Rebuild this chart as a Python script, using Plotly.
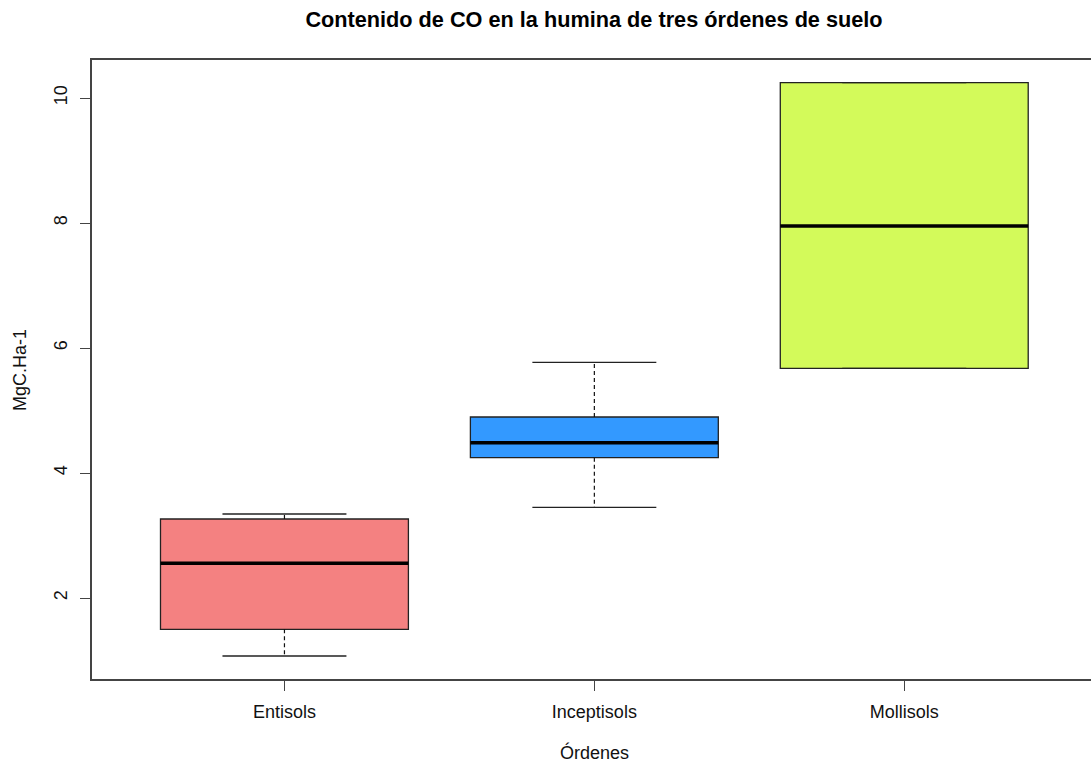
import plotly.graph_objects as go

categories = ["Entisols", "Inceptisols", "Mollisols"]
positions = [1, 2, 3]
lower_whisker = [1.072, 3.451, 5.675]
q1 = [1.499, 4.245, 5.675]
median = [2.555, 4.485, 7.952]
q3 = [3.264, 4.896, 10.245]
upper_whisker = [3.344, 5.771, 10.245]
y_ticks = [2, 4, 6, 8, 10]

colors = ["#F48181", "#3399FF", "#D3FA5A"]
BOX_W = 0.8
CAP_W = 0.4
FONT = "Liberation Sans, Arial, sans-serif"

fig = go.Figure()

for i, c in enumerate(categories):
    fig.add_trace(go.Box(
        x=[positions[i]], q1=[q1[i]], median=[median[i]], q3=[q3[i]],
        lowerfence=[q1[i]], upperfence=[q3[i]],
        width=BOX_W, whiskerwidth=0,
        fillcolor=colors[i], line=dict(color="#222222", width=1.3),
        boxpoints=False, hoverinfo="skip", showlegend=False,
    ))

# dashed whiskers
wx, wy = [], []
for i in range(len(categories)):
    p = positions[i]
    if upper_whisker[i] > q3[i]:
        wx += [p, p, None]; wy += [q3[i], upper_whisker[i], None]
    if lower_whisker[i] < q1[i]:
        wx += [p, p, None]; wy += [q1[i], lower_whisker[i], None]
fig.add_trace(go.Scatter(x=wx, y=wy, mode="lines",
                         line=dict(color="#111111", width=1.2, dash="4px,3px"),
                         hoverinfo="skip", showlegend=False))

# caps
cx, cy = [], []
for i in range(len(categories)):
    p = positions[i]
    for v in (lower_whisker[i], upper_whisker[i]):
        cx += [p - CAP_W / 2, p + CAP_W / 2, None]; cy += [v, v, None]
fig.add_trace(go.Scatter(x=cx, y=cy, mode="lines",
                         line=dict(color="#222222", width=1.3),
                         hoverinfo="skip", showlegend=False))

# medians (thick)
mx, my = [], []
for i in range(len(categories)):
    p = positions[i]
    mx += [p - BOX_W / 2, p + BOX_W / 2, None]; my += [median[i], median[i], None]
fig.add_trace(go.Scatter(x=mx, y=my, mode="lines",
                         line=dict(color="#000000", width=3.5),
                         hoverinfo="skip", showlegend=False))

fig.update_layout(
    width=1091, height=764,
    margin=dict(l=92, r=0, t=60, b=85),
    paper_bgcolor="white", plot_bgcolor="white",
    font=dict(family=FONT, color="#111111", size=18),
    title=dict(text="<b>Contenido de CO en la humina de tres órdenes de suelo</b>",
               x=594 / 1091, xanchor="center", xref="container",
               y=1 - 19 / 764, yanchor="middle", yref="container",
               font=dict(size=21.7, family=FONT, color="#000000")),
    xaxis=dict(range=[0.379, 3.6026], tickvals=positions, ticktext=categories,
               showgrid=False, zeroline=False, showline=True, linecolor="#444444",
               linewidth=1.5, mirror=True, ticks="outside", ticklen=10,
               tickcolor="#444444", tickfont=dict(size=18), ticklabelstandoff=6),
    yaxis=dict(range=[0.704, 10.608], tickvals=y_ticks,
               showgrid=False, zeroline=False, showline=True, linecolor="#444444",
               linewidth=1.5, mirror=False, ticks="outside", ticklen=10,
               tickcolor="#444444", tickangle=-90, tickfont=dict(size=18),
               ticklabelstandoff=6),
    annotations=[
        dict(text="Órdenes", xref="paper", yref="paper", x=(594 - 92) / 999, y=0,
             yshift=-(752 - 679), xanchor="center", yanchor="middle",
             showarrow=False, font=dict(size=18)),
        dict(text="MgC.Ha-1", xref="paper", yref="paper", x=0, y=(679 - 370) / 619,
             xshift=-(92 - 20), xanchor="center", yanchor="middle", textangle=-90,
             showarrow=False, font=dict(size=18)),
    ],
)

fig.write_html("out.html")
